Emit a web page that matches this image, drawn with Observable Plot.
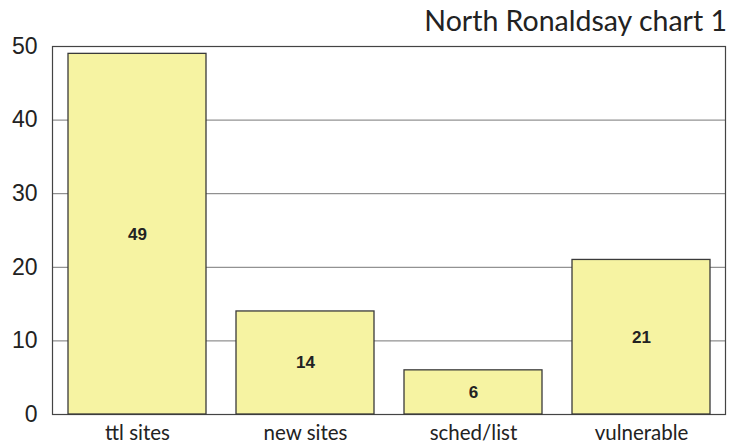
<!DOCTYPE html>
<html><head><meta charset="utf-8">
<script src="https://cdn.jsdelivr.net/npm/d3@7"></script>
<script src="https://cdn.jsdelivr.net/npm/@observablehq/plot@0.6"></script>
<style>
body{margin:0;background:#fff;}
#wrap{position:relative;width:731px;height:445px;}
#title{position:absolute;right:4px;top:3px;font-family:Lato,"Open Sans",sans-serif;font-size:28.5px;color:#222;white-space:nowrap;}
</style></head>
<body><div id="wrap"><div id="title">North Ronaldsay chart 1</div><div id="chart"></div></div>
<script>
const categories = ["ttl sites", "new sites", "sched/list", "vulnerable"];
const values = [49, 14, 6, 21];
const yTicks = [0, 10, 20, 30, 40, 50];
const data = categories.map((c, i) => ({category: c, value: values[i]}));

const chart = Plot.plot({
  width: 731, height: 445,
  marginTop: 46, marginBottom: 31, marginLeft: 52, marginRight: 6,
  style: {fontFamily: "Liberation Sans, Arial, sans-serif", background: "#fff"},
  x: {domain: categories, paddingInner: 0.18, paddingOuter: 0.09, label: null},
  y: {domain: [0, 50], label: null},
  marks: [
    Plot.gridY(yTicks.filter(t => t > 0 && t < 50), {stroke: "#777", strokeOpacity: 1, strokeWidth: 1}),
    Plot.frame({stroke: "#444", strokeWidth: 1.2}),
    Plot.barY(data, {x: "category", y: "value", fill: "#f6f3a2", stroke: "#3a3a3a", strokeWidth: 1.3}),
    Plot.text(data, {x: "category", y: d => d.value / 2, text: d => String(d.value), fontSize: 17, fontWeight: "bold", fill: "#222"}),
    Plot.axisY(yTicks, {tickSize: 0, tickPadding: 15, fontSize: 23, fill: "#222", textAnchor: "end"}),
    Plot.axisX({tickSize: 0, tickPadding: 11, fontSize: 20.5, fill: "#222", fontFamily: "Lato, 'Open Sans', sans-serif"})
  ]
});
document.getElementById("chart").appendChild(chart);
</script></body></html>
